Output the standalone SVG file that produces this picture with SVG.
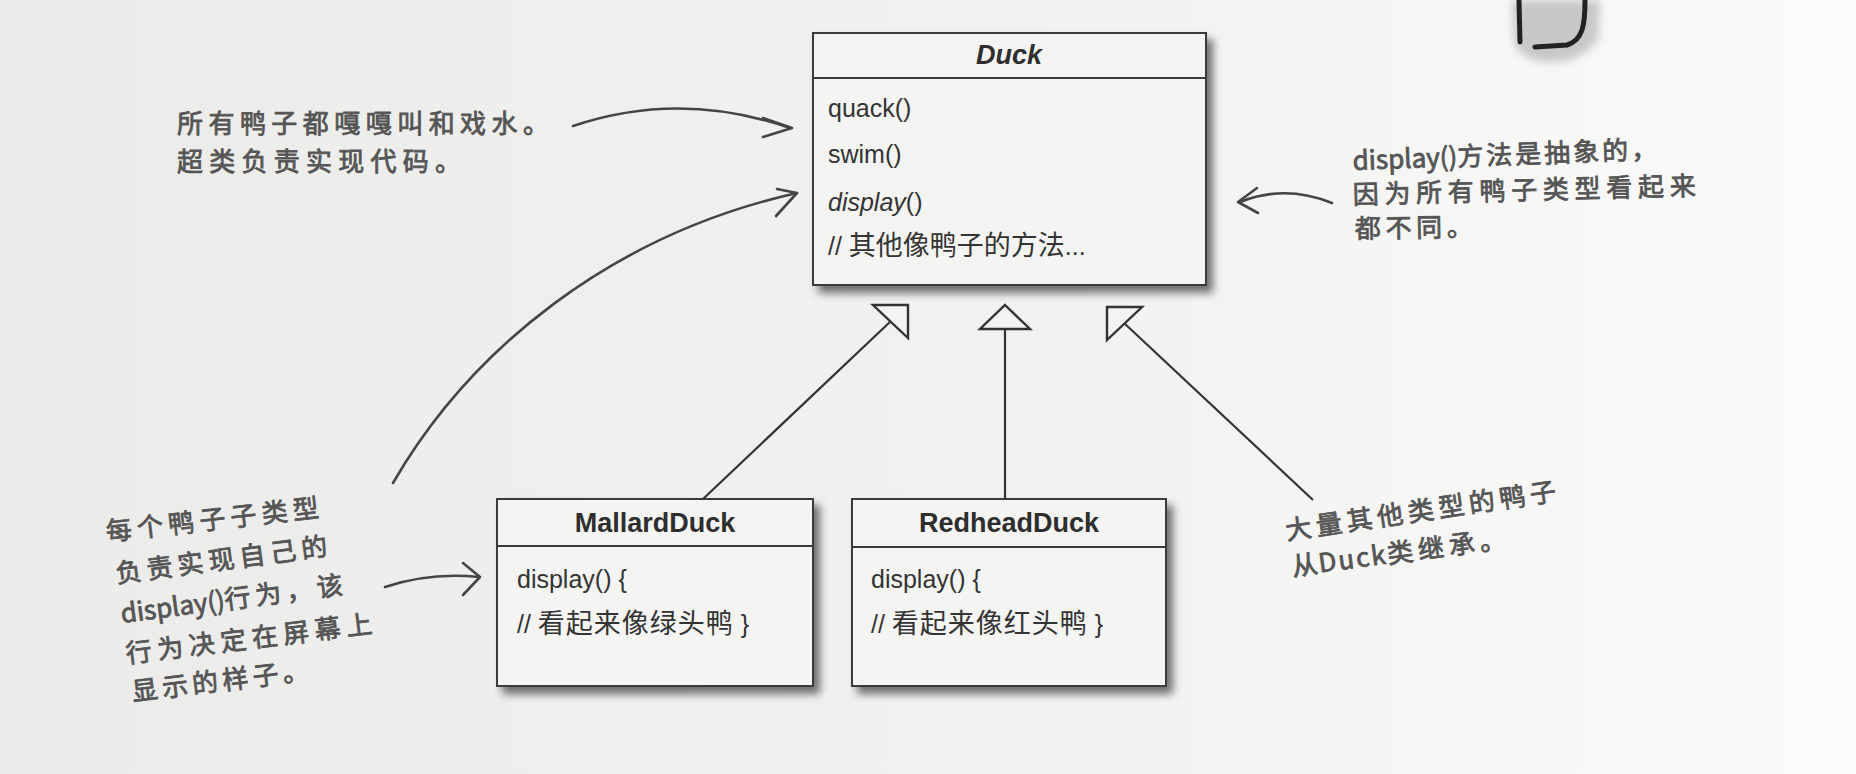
<svg xmlns="http://www.w3.org/2000/svg" width="1856" height="774" viewBox="0 0 1856 774">
  <defs>
    <linearGradient id="paper" x1="0" y1="0" x2="1" y2="0">
      <stop offset="0" stop-color="#ebebe9"/>
      <stop offset="0.6" stop-color="#f2f2f0"/>
      <stop offset="1" stop-color="#fbfbfb"/>
    </linearGradient>
    <filter id="shadow" x="-10%" y="-10%" width="130%" height="130%">
      <feDropShadow dx="6" dy="7" stdDeviation="4" flood-color="#000" flood-opacity="0.55"/>
    </filter>
    <filter id="soft" x="-30%" y="-30%" width="160%" height="160%">
      <feGaussianBlur stdDeviation="4"/>
    </filter>
    <style>
      .box { fill: #f4f4f2; stroke: #3a3a3a; stroke-width: 2; }
      .div { stroke: #3a3a3a; stroke-width: 2; }
      .title { font-family: "Liberation Sans", "Noto Sans CJK SC", sans-serif; font-size: 27px; font-weight: bold; fill: #2e2e2e; text-anchor: middle; }
      .body { font-family: "Liberation Sans", "Noto Sans CJK SC", sans-serif; font-size: 25px; fill: #333; }
      .cjk { font-size: 27px; }
      .note { font-family: "Noto Sans CJK SC", "Liberation Sans", sans-serif; font-size: 26px; fill: #555; stroke: #555; stroke-width: 0.8; }
      .uml { fill: none; stroke: #333; stroke-width: 2.2; }
      .tri { fill: #f3f3f1; stroke: #333; stroke-width: 2.4; stroke-linejoin: miter; }
      .hand { fill: none; stroke: #454545; stroke-width: 2.6; stroke-linecap: round; stroke-linejoin: round; }
    </style>
  </defs>

  <rect x="0" y="0" width="1856" height="774" fill="url(#paper)"/>

  <!-- top-right illustration fragment -->
  <g id="corner-art">
    <path d="M1512,0 L1600,0 L1598,40 Q1580,64 1545,62 Q1516,58 1514,40 Z" fill="#c8c8c8" filter="url(#soft)"/>
    <path d="M1519,0 L1520,42" fill="none" stroke="#222" stroke-width="5" stroke-linecap="round"/>
    <path d="M1585,0 C1585,25 1583,40 1567,45 L1535,47" fill="none" stroke="#222" stroke-width="5" stroke-linecap="round"/>
  </g>

  <!-- connectors -->
  <g id="connectors">
    <line class="uml" x1="703" y1="499" x2="891" y2="321"/>
    <polygon class="tri" points="873,305 908,305 908,338"/>
    <line class="uml" x1="1005" y1="499" x2="1005" y2="329"/>
    <polygon class="tri" points="1005,305 1030,329 980,329"/>
    <line class="uml" x1="1313" y1="500" x2="1124" y2="323"/>
    <polygon class="tri" points="1107,307 1142,307 1107,340"/>

    <path class="hand" d="M573,126 Q680,90 790,128"/>
    <path class="hand" d="M763,118 L792,128 L763,137"/>

    <path class="hand" d="M393,483 C470,350 610,235 797,193"/>
    <path class="hand" d="M777,189 L797,193 L776,216"/>

    <path class="hand" d="M1332,203 Q1285,184 1240,202"/>
    <path class="hand" d="M1257,188 L1238,202 L1258,213"/>

    <path class="hand" d="M385,587 Q430,572 479,577"/>
    <path class="hand" d="M463,563 L480,577 L463,595"/>
  </g>

  <!-- Duck -->
  <g id="duck">
    <rect class="box" x="813" y="33" width="393" height="252" filter="url(#shadow)"/>
    <line class="div" x1="813" y1="78" x2="1206" y2="78"/>
    <text class="title" x="1009" y="64" font-style="italic">Duck</text>
    <text class="body" x="828" y="117">quack()</text>
    <text class="body" x="828" y="163">swim()</text>
    <text class="body" x="828" y="211"><tspan font-style="italic">display</tspan>()</text>
    <text class="body" x="828" y="255">// <tspan class="cjk">其他像鸭子的方法</tspan>...</text>
  </g>

  <!-- MallardDuck -->
  <g id="mallard">
    <rect class="box" x="497" y="499" width="316" height="187" filter="url(#shadow)"/>
    <line class="div" x1="497" y1="546" x2="813" y2="546"/>
    <text class="title" x="655" y="532">MallardDuck</text>
    <text class="body" x="517" y="588">display() {</text>
    <text class="body" x="517" y="633">// <tspan class="cjk" letter-spacing="1">看起来像绿头鸭</tspan> }</text>
  </g>

  <!-- RedheadDuck -->
  <g id="redhead">
    <rect class="box" x="852" y="499" width="314" height="187" filter="url(#shadow)"/>
    <line class="div" x1="852" y1="547" x2="1166" y2="547"/>
    <text class="title" x="1009" y="532">RedheadDuck</text>
    <text class="body" x="871" y="588">display() {</text>
    <text class="body" x="871" y="633">// <tspan class="cjk" letter-spacing="1">看起来像红头鸭</tspan> }</text>
  </g>

  <!-- annotations -->
  <g id="note-superclass">
    <text class="note" x="177" y="133" textLength="372" lengthAdjust="spacing">所有鸭子都嘎嘎叫和戏水。</text>
    <text class="note" x="177" y="171" textLength="284" lengthAdjust="spacing">超类负责实现代码。</text>
  </g>

  <g id="note-abstract">
    <text class="note" transform="translate(1353,170) rotate(-2.2)"><tspan>display()</tspan><tspan letter-spacing="3">方法是抽象的，</tspan></text>
    <text class="note" transform="translate(1353,204) rotate(-1.5)" textLength="343" lengthAdjust="spacing">因为所有鸭子类型看起来</text>
    <text class="note" transform="translate(1355,238) rotate(-1)" textLength="118" lengthAdjust="spacing">都不同。</text>
  </g>

  <g id="note-subtype">
    <text class="note" transform="translate(107,541) rotate(-6.5)" textLength="214" lengthAdjust="spacing">每个鸭子子类型</text>
    <text class="note" transform="translate(117,583) rotate(-7.5)" textLength="213" lengthAdjust="spacing">负责实现自己的</text>
    <text class="note" transform="translate(122,623) rotate(-7.5)"><tspan>display()</tspan><tspan letter-spacing="5">行为，该</tspan></text>
    <text class="note" transform="translate(127,663) rotate(-7)" textLength="248" lengthAdjust="spacing">行为决定在屏幕上</text>
    <text class="note" transform="translate(133,701) rotate(-7)" textLength="178" lengthAdjust="spacing">显示的样子。</text>
  </g>

  <g id="note-others">
    <text class="note" transform="translate(1287,540) rotate(-8.4)" textLength="273" lengthAdjust="spacing">大量其他类型的鸭子</text>
    <text class="note" transform="translate(1293,576) rotate(-7.5)"><tspan letter-spacing="1">从</tspan><tspan letter-spacing="2">Duck</tspan><tspan letter-spacing="5">类继承。</tspan></text>
  </g>
</svg>
